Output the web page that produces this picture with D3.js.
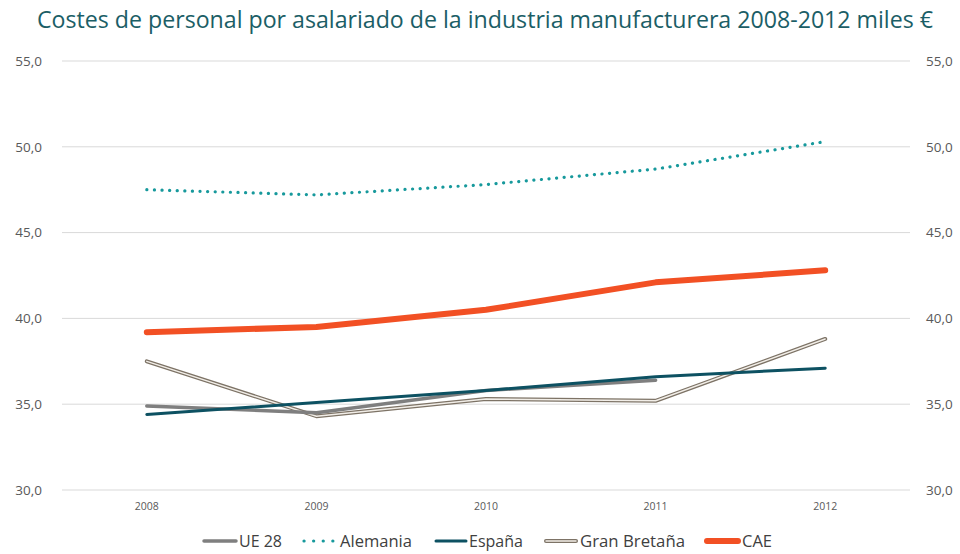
<!DOCTYPE html>
<html><head><meta charset="utf-8">
<script src="https://cdn.jsdelivr.net/npm/d3@7/dist/d3.min.js"></script>
<style>body{margin:0;background:#fff}svg{display:block}</style>
</head><body><svg id="c" width="960" height="554"></svg>
<script>
const years = ["2008","2009","2010","2011","2012"];
const ue28 = [34.9, 34.5, 35.8, 36.4, null];
const alemania = [47.5, 47.2, 47.8, 48.7, 50.3];
const espana = [34.4, 35.1, 35.8, 36.6, 37.1];
const granBretana = [37.5, 34.3, 35.3, 35.2, 38.8];
const cae = [39.2, 39.5, 40.5, 42.1, 42.8];
const yTicks = [30, 35, 40, 45, 50, 55];
const seriesNames = ["UE 28", "Alemania", "España", "Gran Bretaña", "CAE"];

const svg = d3.select("#c");
const font = "'Open Sans', 'Noto Sans', sans-serif";
const x = d3.scaleBand().domain(years).range([62, 910]);
const y = d3.scaleLinear().domain([30, 55]).range([490, 61]);

svg.append("text").attr("x", 485).attr("y", 28).attr("text-anchor", "middle")
  .attr("font-family", font).attr("font-size", 23).attr("fill", "#1b5e66")
  .attr("textLength", 896).attr("lengthAdjust", "spacingAndGlyphs")
  .text("Costes de personal por asalariado de la industria manufacturera 2008-2012 miles €");

// grid
svg.append("g").selectAll("line").data(yTicks).join("line")
  .attr("x1", 62).attr("x2", 910).attr("y1", d => y(d)).attr("y2", d => y(d))
  .attr("stroke", "#d9d9d9").attr("stroke-width", 1);

const fmt = d => d.toFixed(1).replace(".", ",");
const gl = svg.append("g").attr("transform", "translate(42,0)")
  .call(d3.axisLeft(y).tickValues(yTicks).tickFormat(fmt).tickSize(0).tickPadding(0));
const gr = svg.append("g").attr("transform", "translate(926,0)")
  .call(d3.axisRight(y).tickValues(yTicks).tickFormat(fmt).tickSize(0).tickPadding(0));
[gl, gr].forEach(g => {
  g.select(".domain").remove();
  g.selectAll("text").attr("font-family", font).attr("font-size", 13.5).attr("fill", "#595959");
});
const gx = svg.append("g").attr("transform", "translate(0,503)")
  .call(d3.axisBottom(x).tickSize(0).tickPadding(0));
gx.select(".domain").remove();
gx.selectAll("text").attr("font-family", font).attr("font-size", 10.5).attr("fill", "#595959");

const line = d3.line().defined(d => d != null)
  .x((d, i) => x(years[i]) + x.bandwidth() / 2).y(d => y(d));

function draw(data, stroke, width, extra) {
  const p = svg.append("path").attr("d", line(data)).attr("fill", "none")
    .attr("stroke", stroke).attr("stroke-width", width)
    .attr("stroke-linejoin", "round").attr("stroke-linecap", "round");
  if (extra) extra(p);
  return p;
}
draw(granBretana, "#7d7366", 4);
draw(granBretana, "#f2eee8", 1.4);
draw(ue28, "#7f7f7f", 3.5);
draw(espana, "#0d5162", 3);
draw(alemania, "#17999c", 3.2, p => p.attr("stroke-dasharray", "0.1 7.5"));
draw(cae, "#f25024", 6);

// legend
const leg = [
  {x1: 204, x2: 236, tx: 239, tw: 43, c: "#7f7f7f", w: 3.5},
  {x1: 304, x2: 333, tx: 340, tw: 72, c: "#17999c", w: 3.2, dash: "0.1 9.5"},
  {x1: 436, x2: 466, tx: 469, tw: 54, c: "#0d5162", w: 3},
  {x1: 546, x2: 576, tx: 580, tw: 105, c: "#7d7366", w: 4, dbl: true},
  {x1: 707, x2: 738, tx: 742, tw: 30, c: "#f25024", w: 6}
];
const ly = 541;
leg.forEach((d, i) => {
  const l = svg.append("line").attr("x1", d.x1).attr("x2", d.x2).attr("y1", ly).attr("y2", ly)
    .attr("stroke", d.c).attr("stroke-width", d.w).attr("stroke-linecap", "round");
  if (d.dash) l.attr("stroke-dasharray", d.dash);
  if (d.dbl) svg.append("line").attr("x1", d.x1).attr("x2", d.x2).attr("y1", ly).attr("y2", ly)
    .attr("stroke", "#f2eee8").attr("stroke-width", 1.4).attr("stroke-linecap", "round");
  svg.append("text").attr("x", d.tx).attr("y", ly + 5.5)
    .attr("font-family", font).attr("font-size", 15.5).attr("fill", "#404040")
    .attr("textLength", d.tw).attr("lengthAdjust", "spacingAndGlyphs").text(seriesNames[i]);
});
</script></body></html>
